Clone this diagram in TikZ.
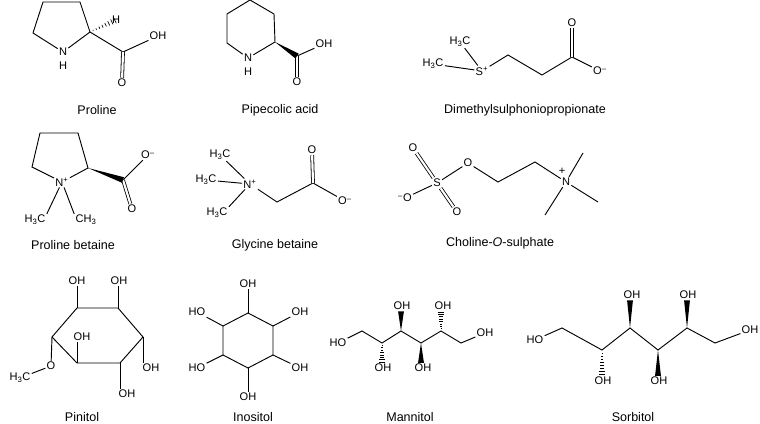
\documentclass[tikz,border=0pt]{standalone}
\usepackage{fontspec}
\setmainfont{Liberation Sans}
\usetikzlibrary{calc}

% bold and hashed wedge bonds
\newcommand{\boldwedge}[2]{\fill ($(#1)$) -- ($(#2)!2.2pt!90:(#1)$) -- ($(#2)!2.2pt!-90:(#1)$) -- cycle;}
\newcommand{\hashwedge}[2]{\foreach \t in {0.12,0.24,...,1.0}{
  \coordinate (hp) at ($(#1)!\t!(#2)$);
  \draw[line width=0.5pt] ($(hp)!\t*2.4pt!90:(#2)$) -- ($(hp)!\t*2.4pt!-90:(#2)$);}}

\begin{document}
\begin{tikzpicture}[x=0.75pt,y=-0.75pt,
  bond/.style={line width=0.7pt},
  dbl/.style={line width=0.6pt, double, double distance=1.6pt},
  atom/.style={inner sep=0.8pt, font=\fontsize{8.3}{9}\selectfont},
  cname/.style={inner sep=0pt, font=\fontsize{9.4}{11}\selectfont}
]
\useasboundingbox (0,0) rectangle (760,424);

% Proline
\coordinate (pa) at (43,2); \coordinate (pb) at (80,2); \coordinate (pc) at (90,32);
\coordinate (pd) at (33,33);
\node[atom] (pn) at (63,52) {N}; \node[atom] at (63,66) {H};
\node[atom] (ph) at (116,20) {H};
\coordinate (pk) at (123,52);
\node[atom] (poh) at (158,36) {OH}; \node[atom] (po) at (122,83) {O};
\draw[bond] (pn) -- (pd) -- (pa) -- (pb) -- (pc) -- (pn);
\draw[bond] (pc) -- (pk) -- (poh);
\draw[dbl] (pk) -- (po);
\hashwedge{pc}{ph}
\node[cname] at (97,110) {Proline};

% Pipecolic acid
\coordinate (qa) at (250,0); \coordinate (qb) at (274,14); \coordinate (qc) at (275,42);
\node[atom] (qn) at (248,58) {N}; \node[atom] at (248,72) {H};
\coordinate (qe) at (227,43); \coordinate (qf) at (227,14);
\coordinate (qk) at (297,56);
\node[atom] (qoh) at (324,44) {OH}; \node[atom] (qo) at (297,82) {O};
\draw[bond] (qn) -- (qe) -- (qf) -- (qa) -- (qb) -- (qc) -- (qn);
\draw[bond] (qk) -- (qoh);
\draw[dbl] (qk) -- (qo);
\boldwedge{qc}{qk}
\node[cname] at (280,110) {Pipecolic acid};

% Dimethylsulphoniopropionate
\node[atom] (dm1) at (460,42) {H\textsubscript{3}C};
\node[atom] (dm2) at (433,64) {H\textsubscript{3}C};
\node[atom] (ds) at (482,71) {S\textsuperscript{+}};
\coordinate (da) at (508,55); \coordinate (db) at (542,75); \coordinate (dk) at (572,57);
\node[atom] (do1) at (572,23) {O}; \node[atom] (do2) at (600,71) {O\textsuperscript{--}};
\draw[bond] (dm1) -- (ds); \draw[bond] (dm2) -- (ds);
\draw[bond] (ds) -- (da) -- (db) -- (dk) -- (do2);
\draw[dbl] (dk) -- (do1);
\node[cname] at (525,110) {Dimethylsulphoniopropionate};

% Proline betaine
\coordinate (ra) at (40,133); \coordinate (rb) at (78,133); \coordinate (rc) at (88,168);
\coordinate (rd) at (32,167);
\node[atom] (rn) at (62,182) {N\textsuperscript{+}};
\node[atom] (rm1) at (35,220) {H\textsubscript{3}C}; \node[atom] (rm2) at (86,220) {CH\textsubscript{3}};
\coordinate (rk) at (123,180);
\node[atom] (ro1) at (148,155) {O\textsuperscript{--}}; \node[atom] (ro2) at (132,209) {O};
\draw[bond] (rn) -- (rd) -- (ra) -- (rb) -- (rc) -- (rn);
\draw[bond] (rn) -- (rm1.north east); \draw[bond] (rn) -- (rm2.north west);
\draw[bond] (rk) -- (ro1);
\draw[dbl] (rk) -- (ro2);
\boldwedge{rc}{rk}
\node[cname] at (73,245) {Proline betaine};

% Glycine betaine
\node[atom] (gm1) at (220,155) {H\textsubscript{3}C};
\node[atom] (gm2) at (206,180) {H\textsubscript{3}C};
\node[atom] (gm3) at (217,213) {H\textsubscript{3}C};
\node[atom] (gn) at (250,184) {N\textsuperscript{+}};
\coordinate (ga) at (277,202); \coordinate (gk) at (313,183);
\node[atom] (go1) at (312,150) {O}; \node[atom] (go2) at (345,201) {O\textsuperscript{--}};
\draw[bond] (gm1) -- (gn); \draw[bond] (gm2) -- (gn); \draw[bond] (gm3.north east) -- (gn);
\draw[bond] (gn) -- (ga) -- (gk) -- (go2);
\draw[dbl] (gk) -- (go1);
\node[cname] at (275,245) {Glycine betaine};

% Choline-O-sulphate
\node[atom] (cs) at (437,183) {S};
\node[atom] (co1) at (413,148) {O}; \node[atom] (co2) at (457,212) {O};
\node[atom] (co3) at (405,198) {\textsuperscript{--}O};
\node[atom] (co4) at (468,163) {O};
\coordinate (ca) at (498,182); \coordinate (cb) at (535,162);
\node[atom] (cn) at (566,182) {N}; \node[atom] at (562,171) {+};
\coordinate (cm1) at (583,153); \coordinate (cm2) at (598,202); \coordinate (cm3) at (545,215);
\draw[dbl] (cs) -- (co1); \draw[dbl] (cs) -- (co2);
\draw[bond] (co3) -- (cs) -- (co4) -- (ca) -- (cb) -- (cn);
\draw[bond] (cn) -- (cm1); \draw[bond] (cn) -- (cm2); \draw[bond] (cn) -- (cm3);
\node[cname] at (500,243) {Choline-\textit{O}-sulphate};

% Pinitol
\coordinate (ta) at (77,308); \coordinate (tb) at (118,308); \coordinate (tc) at (143,337);
\coordinate (td) at (120,363); \coordinate (te) at (77,363); \coordinate (tf) at (52,337);
\node[atom] (toa) at (77,281) {OH}; \node[atom] (tob) at (119,281) {OH};
\node[atom] (toc) at (151,368) {OH}; \node[atom] (tod) at (127,394) {OH};
\node[atom] (toe) at (82,337) {OH}; \node[atom] (tof) at (51,366) {O};
\node[atom] (tme) at (20,378) {H\textsubscript{3}C};
\draw[bond] (ta) -- (tb) -- (tc) -- (td) -- (te) -- (tf) -- cycle;
\draw[bond] (ta) -- (toa.south -| ta); \draw[bond] (tb) -- (tob.south -| tb);
\draw[bond] (tc) -- (tc |- toc.north); \draw[bond] (td) -- (td |- tod.north);
\draw[bond] (te) -- (te |- toe.south); \draw[bond] (tf) -- (tof);
\draw[bond] (tof) -- (tme);
\node[cname] at (82,417) {Pinitol};

% Inositol
\coordinate (ia) at (248,313); \coordinate (ib) at (273,326); \coordinate (ic) at (273,355);
\coordinate (id) at (248,368); \coordinate (ie) at (223,355); \coordinate (if) at (223,326);
\node[atom] (ioa) at (248,284) {OH}; \node[atom] (iob) at (300,312) {OH};
\node[atom] (ioc) at (300,368) {OH}; \node[atom] (iod) at (248,397) {OH};
\node[atom] (ioe) at (197,368) {HO}; \node[atom] (iof) at (197,312) {HO};
\draw[bond] (ia) -- (ib) -- (ic) -- (id) -- (ie) -- (if) -- cycle;
\draw[bond] (ia) -- (ioa); \draw[bond] (ib) -- (iob); \draw[bond] (ic) -- (ioc);
\draw[bond] (id) -- (iod); \draw[bond] (ie) -- (ioe); \draw[bond] (if) -- (iof);
\node[cname] at (253,417) {Inositol};

% Mannitol
\node[atom] (mho) at (338,343) {HO};
\coordinate (m1) at (362,331); \coordinate (m2) at (382,343); \coordinate (m3) at (401,331);
\coordinate (m4) at (421,343); \coordinate (m5) at (441,331); \coordinate (m6) at (461,343);
\node[atom] (mo2) at (383,368) {OH}; \node[atom] (mo3) at (402,306) {OH};
\node[atom] (mo4) at (423,368) {OH}; \node[atom] (mo5) at (443,306) {OH};
\node[atom] (moh) at (485,333) {OH};
\draw[bond] (mho) -- (m1) -- (m2) -- (m3) -- (m4) -- (m5) -- (m6) -- (moh);
\hashwedge{m2}{mo2.north -| m2} \boldwedge{m3}{mo3.south -| m3}
\boldwedge{m4}{mo4.north -| m4} \hashwedge{m5}{mo5.south -| m5}
\node[cname] at (410,417) {Mannitol};

% Sorbitol
\node[atom] (sho) at (535,340) {HO};
\coordinate (s1) at (562,328); \coordinate (s2) at (602,350); \coordinate (s3) at (630,328);
\coordinate (s4) at (658,350); \coordinate (s5) at (687,328); \coordinate (s6) at (715,343);
\node[atom] (so2) at (603,381) {OH}; \node[atom] (so3) at (632,295) {OH};
\node[atom] (so4) at (659,381) {OH}; \node[atom] (so5) at (688,295) {OH};
\node[atom] (soh) at (750,330) {OH};
\draw[bond] (sho) -- (s1) -- (s2) -- (s3) -- (s4) -- (s5) -- (s6) -- (soh);
\hashwedge{s2}{so2.north -| s2} \boldwedge{s3}{so3.south -| s3}
\boldwedge{s4}{so4.north -| s4} \boldwedge{s5}{so5.south -| s5}
\node[cname] at (633,417) {Sorbitol};
\end{tikzpicture}
\end{document}
